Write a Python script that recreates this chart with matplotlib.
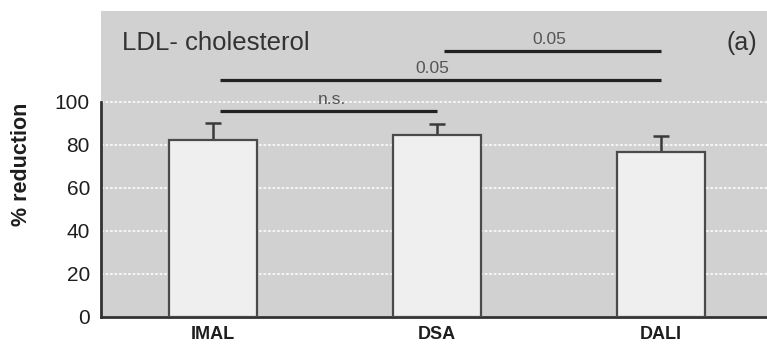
import matplotlib
matplotlib.use("Agg")
import matplotlib.pyplot as plt

plt.rcParams['font.family'] = ['Liberation Sans', 'DejaVu Sans']

# Data
groups = ["IMAL", "DSA", "DALI"]
reduction = [82.5, 84.7, 76.8]
reduction_err = [7.8, 5.2, 7.5]
yticks = [0, 20, 40, 60, 80, 100]

# Significance brackets: (from group, to group, level, label, label x)
sig_from = [0, 0, 1]
sig_to = [1, 2, 2]
sig_level = [95.8, 110.2, 123.7]
sig_label = ["n.s.", "0.05", "0.05"]
sig_label_x = [0.53, 0.98, 1.5]

fig = plt.figure(figsize=(7.67, 3.44), dpi=100)
ax = fig.add_axes([101 / 767, 1 - 317 / 344, 666 / 767, 306 / 344])

bg = "#d1d1d1"
ax.set_facecolor(bg)
ax.set_xlim(-0.5, 2.473)
ax.set_ylim(0, 142.3)

# horizontal white dotted grid lines
for t in yticks[1:]:
    ax.axhline(t, color="white", lw=1.3, ls=(0, (1.5, 1)), alpha=0.85, zorder=1)

x = list(range(len(groups)))
ax.bar(x, reduction, width=0.39, color="#efefef", edgecolor="#4a4a4a",
       linewidth=1.6, zorder=3)
ax.errorbar(x, reduction, yerr=[[0] * len(x), reduction_err], fmt="none",
            ecolor="#3a3a3a", elinewidth=1.8, capsize=6, capthick=1.8, zorder=2)

for a, b, lvl, lab, lx in zip(sig_from, sig_to, sig_level, sig_label, sig_label_x):
    ax.plot([a + 0.03, b], [lvl, lvl], color="#222222", lw=2.3,
            solid_capstyle="butt", zorder=4)
    ax.text(lx, lvl + 1.8, lab, ha="center", va="bottom", fontsize=12.5,
            color="#555555", zorder=4)

ax.text(0.032, 0.895, "LDL- cholesterol", transform=ax.transAxes,
        fontsize=18.5, color="#333333", ha="left", va="center")
ax.text(0.985, 0.895, "(a)", transform=ax.transAxes,
        fontsize=18, color="#333333", ha="right", va="center")

ax.set_yticks(yticks)
ax.set_yticklabels([str(t) for t in yticks], fontsize=15, color="#1e1e1e")
ax.set_xticks(x)
ax.set_xticklabels(groups, fontsize=13, fontweight="bold", color="#1e1e1e")
ax.tick_params(axis="y", length=0, pad=8)
ax.tick_params(axis="x", length=0, pad=6.5)

ax.set_ylabel("% reduction", fontsize=15.5, fontweight="bold", color="#1e1e1e")
ax.yaxis.set_label_coords(-0.104, 0.5)

for s in ["top", "right"]:
    ax.spines[s].set_visible(False)
ax.spines["left"].set_bounds(0, 100)
ax.spines["left"].set_color("#333333")
ax.spines["left"].set_linewidth(2)
ax.spines["bottom"].set_color("#333333")
ax.spines["bottom"].set_linewidth(2)

fig.savefig("out.png", dpi=100, facecolor="white")
